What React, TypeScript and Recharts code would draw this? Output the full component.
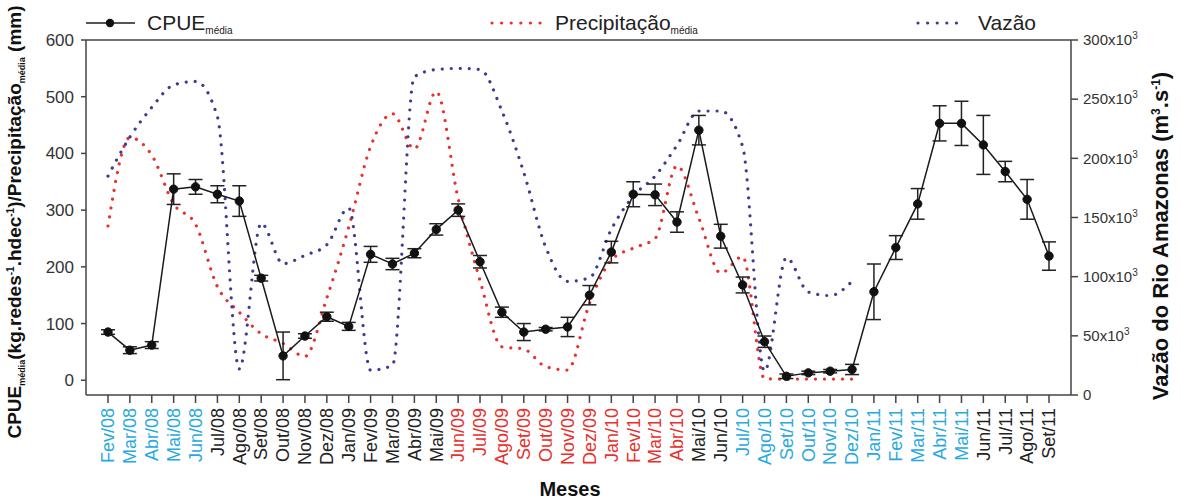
import { ComposedChart, Line, XAxis, YAxis, ErrorBar, ReferenceLine } from 'recharts'

const months = [
  'Fev/08', 'Mar/08', 'Abr/08', 'Mai/08', 'Jun/08', 'Jul/08', 'Ago/08', 'Set/08', 'Out/08', 'Nov/08', 'Dez/08',
  'Jan/09', 'Fev/09', 'Mar/09', 'Abr/09', 'Mai/09', 'Jun/09', 'Jul/09', 'Ago/09', 'Set/09', 'Out/09', 'Nov/09', 'Dez/09',
  'Jan/10', 'Fev/10', 'Mar/10', 'Abr/10', 'Mai/10', 'Jun/10', 'Jul/10', 'Ago/10', 'Set/10', 'Out/10', 'Nov/10', 'Dez/10',
  'Jan/11', 'Fev/11', 'Mar/11', 'Abr/11', 'Mai/11', 'Jun/11', 'Jul/11', 'Ago/11', 'Set/11',
]

// c = cyan, k = black, r = red (colour of each month label)
const monthColor = [
  'c', 'c', 'c', 'c', 'c', 'k', 'k', 'k', 'k', 'k', 'k',
  'k', 'k', 'k', 'k', 'k', 'r', 'r', 'r', 'r', 'r', 'r', 'r',
  'r', 'r', 'r', 'r', 'k', 'k', 'c', 'c', 'c', 'c', 'c', 'c',
  'c', 'c', 'c', 'c', 'c', 'k', 'k', 'k', 'k',
]

const cpue = [
  85, 53, 62, 337, 341, 328, 316, 180, 43, 78, 112,
  95, 222, 205, 224, 266, 300, 209, 120, 85, 90, 94, 150,
  226, 328, 327, 279, 441, 254, 168, 68, 7, 13, 16, 19,
  156, 234, 311, 453, 453, 415, 368, 319, 219,
]

const cpueErr = [
  4, 6, 6, 27, 13, 15, 27, 5, 42, 4, 8,
  7, 14, 10, 8, 10, 11, 11, 9, 15, 3, 17, 17,
  19, 22, 19, 18, 26, 21, 14, 10, 4, 3, 3, 9,
  49, 21, 27, 31, 39, 52, 18, 35, 25,
]

const precip = [
  272, 428, 397, 311, 275, 165, 120, 82, 65, 42, 145,
  270, 412, 470, 408, 509, 320, 176, 59, 55, 24, 18, 135,
  212, 233, 250, 378, 286, 189, 218, 3, 2, 2, 2, 2,
]

// Vazão in 10^3 m3/s
const vazao = [
  185, 218, 243, 262, 265, 235, 22, 145, 111, 118, 127,
  158, 21, 25, 269, 275, 276, 275, 240, 188, 125, 96, 99,
  140, 168, 185, 211, 240, 240, 210, 20, 116, 87, 84, 96,
]

const leftTicks = [0, 100, 200, 300, 400, 500, 600]
const rightTicks = [0, 50, 100, 150, 200, 250, 300]

const data = months.map((m, i) => ({
  i,
  month: m,
  cpue: cpue[i],
  cpueErr: cpueErr[i],
  precip: i < precip.length ? precip[i] : null,
  vazao: i < vazao.length ? vazao[i] : null,
}))

const FONT = '"Liberation Sans", Arial, sans-serif'
const COLORS: Record<string, string> = { c: '#29a9e0', k: '#222', r: '#e8302c' }
const RED = '#e8302c'
const BLUE = '#3d3a8f'
const AXIS = '#444'

const MonthTick = (props: any) => {
  const { x, y, payload } = props
  const idx = payload.value
  return (
    <g transform={`translate(${x},${y})`}>
      <text transform="rotate(-90)" x={-3} y={0} dy="0.35em" textAnchor="end"
        fontSize={18} fontFamily={FONT} fill={COLORS[monthColor[idx]]}>
        {months[idx]}
      </text>
    </g>
  )
}

const RightTick = (props: any) => {
  const { x, y, payload } = props
  const v = payload.value
  return (
    <text x={x} y={y} dy="0.35em" textAnchor="start" fontSize={15} fontFamily={FONT} fill="#333">
      {v === 0 ? '0' : `${v}x10`}
      {v !== 0 && <tspan dy={-6} fontSize={10}>3</tspan>}
    </text>
  )
}

function Overlay() {
  return (
    <svg width={1180} height={500} style={{ position: 'absolute', left: 0, top: 0, pointerEvents: 'none' }}
      fontFamily={FONT}>
      {/* legend */}
      <line x1={86} x2={135} y1={23} y2={23} stroke="#555" strokeWidth={2} />
      <circle cx={110} cy={23} r={4.2} fill="#111" />
      <text x={147} y={30} fontSize={21} fill="#222">
        CPUE<tspan dy={4} fontSize={10}>média</tspan>
      </text>
      <line x1={492} x2={542} y1={23} y2={23} stroke={RED} strokeWidth={3.2}
        strokeLinecap="round" strokeDasharray="0.01 9.6" />
      <text x={555} y={30} fontSize={21} fill="#222">
        Precipitação<tspan dy={4} fontSize={10}>média</tspan>
      </text>
      <line x1={918} x2={966} y1={23} y2={23} stroke={BLUE} strokeWidth={3.2}
        strokeLinecap="round" strokeDasharray="0.01 9.6" />
      <text x={978} y={30} fontSize={21} fill="#222">Vazão</text>

      {/* axis titles */}
      <text transform="translate(21,222) rotate(-90)" textAnchor="middle" fontSize={19} fontWeight="bold" fill="#111">
        CPUE<tspan dy={4} fontSize={9}>média</tspan>
        <tspan dy={-4}>(kg.redes</tspan>
        <tspan dy={-7} fontSize={10}>-1</tspan>
        <tspan dy={7}>.hdec</tspan>
        <tspan dy={-7} fontSize={10}>-1</tspan>
        <tspan dy={7}>)/Precipitação</tspan>
        <tspan dy={4} fontSize={9}>média</tspan>
        <tspan dy={-4}> (mm)</tspan>
      </text>
      <text transform="translate(1168,236) rotate(-90)" textAnchor="middle" fontSize={22} fontWeight="bold" fill="#111">
        Vazão do Rio Amazonas (m
        <tspan dy={-8} fontSize={12}>3</tspan>
        <tspan dy={8}>.s</tspan>
        <tspan dy={-8} fontSize={12}>-1</tspan>
        <tspan dy={8}>)</tspan>
      </text>
      <text x={570} y={496} textAnchor="middle" fontSize={20} fontWeight="bold" fill="#111">Meses</text>
    </svg>
  )
}

export default function App() {
  return (
    <div style={{ position: 'absolute', left: 0, top: 0, width: 1180, height: 500, background: '#fff' }}>
      <ComposedChart width={1180} height={500} data={data}
        margin={{ top: 40, right: 49, bottom: 25, left: 46 }}>
        <XAxis dataKey="i" type="number" domain={[0, 43]} ticks={data.map(d => d.i)} interval={0}
          padding={{ left: 22, right: 22 }} height={80} tick={<MonthTick />}
          tickSize={8} axisLine={{ stroke: AXIS, strokeWidth: 1.5 }} tickLine={{ stroke: AXIS, strokeWidth: 1.5 }} />
        <YAxis yAxisId="left" domain={[-26, 600]} ticks={leftTicks} width={40} interval={0}
          tickSize={5} tickMargin={7} allowDataOverflow
          tick={{ fontSize: 17, fill: '#333', fontFamily: FONT }}
          axisLine={{ stroke: AXIS, strokeWidth: 1.5 }} tickLine={{ stroke: AXIS, strokeWidth: 1.5 }} />
        <YAxis yAxisId="right" orientation="right" domain={[0, 300]} ticks={rightTicks} width={60} interval={0}
          tickSize={7} tickMargin={5} tick={<RightTick />}
          axisLine={{ stroke: AXIS, strokeWidth: 1.5 }} tickLine={{ stroke: AXIS, strokeWidth: 1.5 }} />
        <ReferenceLine yAxisId="left" y={600} stroke={AXIS} strokeWidth={1.5} />
        <Line yAxisId="left" type="monotone" dataKey="precip" stroke={RED} strokeWidth={3.2}
          strokeLinecap="round" strokeDasharray="0.01 9" dot={false} connectNulls={false}
          isAnimationActive={false} />
        <Line yAxisId="right" type="monotone" dataKey="vazao" stroke={BLUE} strokeWidth={3.2}
          strokeLinecap="round" strokeDasharray="0.01 9" dot={false} connectNulls={false}
          isAnimationActive={false} />
        <Line yAxisId="left" type="linear" dataKey="cpue" stroke="#1a1a1a" strokeWidth={1.5}
          dot={{ r: 4.2, fill: '#111', stroke: '#111', strokeWidth: 1 }} activeDot={false}
          isAnimationActive={false}>
          <ErrorBar dataKey="cpueErr" direction="y" width={7} stroke="#222" strokeWidth={1.5} />
        </Line>
      </ComposedChart>
      <Overlay />
    </div>
  )
}
